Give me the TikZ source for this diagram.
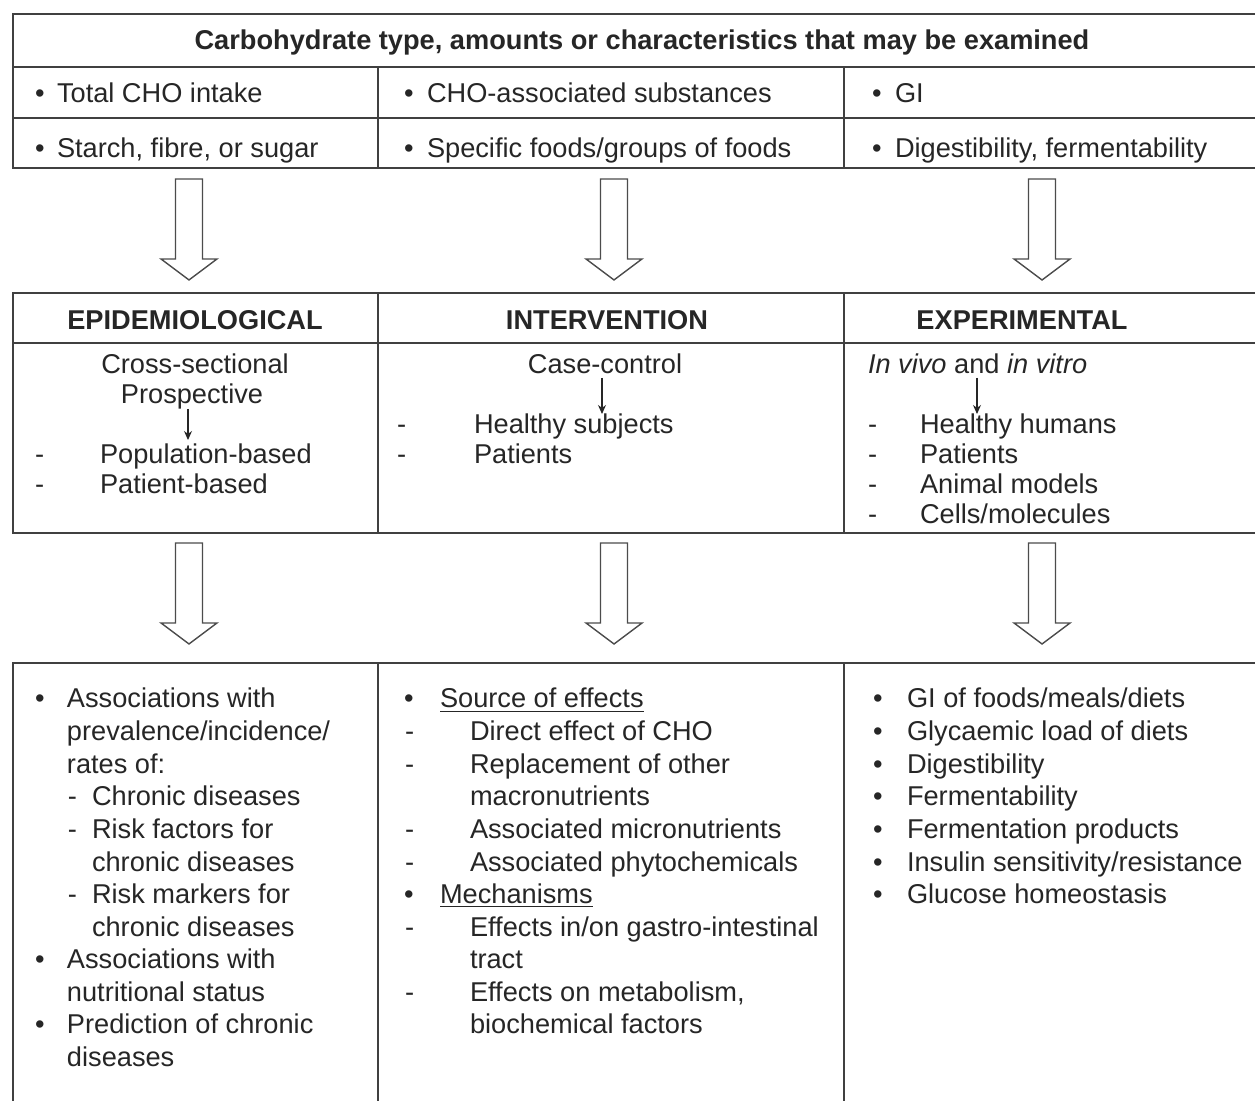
\documentclass[tikz,border=0pt]{standalone}
\usepackage{fontspec}
\setmainfont{Liberation Sans}
\usetikzlibrary{arrows.meta}
\newcommand\Lline[4]{\node[txt] (#1) at (#2,#3) {#4};}
\begin{document}
\begin{tikzpicture}[x=0.5pt,y=-0.5pt,
  frame/.style={line width=0.9pt, draw=black!75},
  txt/.style={anchor=base west, inner sep=0pt, outer sep=0pt, font=\fontsize{13.6}{16.3}\selectfont, text=black!85},
  ctxt/.style={txt, anchor=base},
  hdr/.style={ctxt, font=\fontsize{13.6}{16.3}\selectfont\bfseries},
  blockarrow/.style={draw=black!70, line width=0.7pt, fill=white, line join=miter},
  smallarrow/.style={draw=black!85, line width=0.6pt, -{Stealth[length=4.5pt,width=4pt]}}
]
\useasboundingbox (0,0) rectangle (1255,1101);
\fill[white] (0,0) rectangle (1255,1101);

% ---------- top table ----------
\draw[frame] (1255,14) -- (13,14) -- (13,168) -- (1255,168);
\draw[frame] (13,67) -- (1255,67);
\draw[frame] (13,118) -- (1255,118);
\draw[frame] (378,67) -- (378,168);
\draw[frame] (844,67) -- (844,168);

\node[hdr] (title) at (642,50) {Carbohydrate type, amounts or characteristics that may be examined};
\Lline{tb1}{35}{103}{•}  \Lline{tt1}{57}{103}{Total CHO intake}
\Lline{tb2}{35}{158}{•}  \Lline{tt2}{57}{158}{Starch, fibre, or sugar}
\Lline{tb3}{404}{103}{•} \Lline{tt3}{427}{103}{CHO-associated substances}
\Lline{tb4}{404}{158}{•} \Lline{tt4}{427}{158}{Specific foods/groups of foods}
\Lline{tb5}{872}{103}{•} \Lline{tt5}{895}{103}{GI}
\Lline{tb6}{872}{158}{•} \Lline{tt6}{895}{158}{Digestibility, fermentability}

% ---------- block arrows ----------
\foreach \cx in {189,614,1042}{
  \foreach \ty in {179,543}{
    \draw[blockarrow] (\cx-13.5,\ty) -- (\cx+13.5,\ty) -- (\cx+13.5,\ty+80) -- (\cx+28,\ty+80)
      -- (\cx,\ty+101) -- (\cx-28,\ty+80) -- (\cx-13.5,\ty+80) -- cycle;
  }
}

% ---------- middle box ----------
\draw[frame] (1255,293) -- (13,293) -- (13,533) -- (1255,533);
\draw[frame] (13,343) -- (1255,343);
\draw[frame] (378,293) -- (378,533);
\draw[frame] (844,293) -- (844,533);

\node[hdr] (h1) at (195,330) {EPIDEMIOLOGICAL};
\node[hdr] (h2) at (607,330) {INTERVENTION};
\node[hdr] (h3) at (1022,330) {EXPERIMENTAL};

\node[ctxt] (cross) at (195,374) {Cross-sectional};
\node[ctxt] (prosp) at (192,404) {Prospective};
\coordinate (a1s) at (188,409);
\coordinate (a1e) at (188,440);
\draw[smallarrow] (a1s) -- (a1e);
\Lline{md1}{35}{464}{-} \Lline{mt1}{100}{464}{Population-based}
\Lline{md2}{35}{494}{-} \Lline{mt2}{100}{494}{Patient-based}

\node[ctxt] (casec) at (605,374) {Case-control};
\coordinate (a2s) at (602,378);
\coordinate (a2e) at (602,414);
\draw[smallarrow] (a2s) -- (a2e);
\Lline{md3}{397}{434}{-} \Lline{mt3}{474}{434}{Healthy subjects}
\Lline{md4}{397}{464}{-} \Lline{mt4}{474}{464}{Patients}

\Lline{invivo}{868}{374}{\textit{In vivo} and \textit{in vitro}}
\coordinate (a3s) at (977,378);
\coordinate (a3e) at (977,414);
\draw[smallarrow] (a3s) -- (a3e);
\Lline{md5}{868}{434}{-} \Lline{mt5}{920}{434}{Healthy humans}
\Lline{md6}{868}{464}{-} \Lline{mt6}{920}{464}{Patients}
\Lline{md7}{868}{494}{-} \Lline{mt7}{920}{494}{Animal models}
\Lline{md8}{868}{524}{-} \Lline{mt8}{920}{524}{Cells/molecules}

% ---------- bottom box ----------
\draw[frame] (1255,663) -- (13,663) -- (13,1101);
\draw[frame] (378,663) -- (378,1101);
\draw[frame] (844,663) -- (844,1101);

% column 1
\Lline{l1b1}{35}{708}{•}    \Lline{l1t1}{67}{708}{Associations with}
\Lline{l1t2}{67}{740.6}{prevalence/incidence/}
\Lline{l1t3}{67}{773.2}{rates of:}
\Lline{l1d1}{68}{805.8}{-}  \Lline{l1t4}{92}{805.8}{Chronic diseases}
\Lline{l1d2}{68}{838.4}{-}  \Lline{l1t5}{92}{838.4}{Risk factors for}
\Lline{l1t6}{92}{871}{chronic diseases}
\Lline{l1d3}{68}{903.6}{-}  \Lline{l1t7}{92}{903.6}{Risk markers for}
\Lline{l1t8}{92}{936.2}{chronic diseases}
\Lline{l1b2}{35}{968.8}{•}  \Lline{l1t9}{67}{968.8}{Associations with}
\Lline{l1t10}{67}{1001.4}{nutritional status}
\Lline{l1b3}{35}{1034}{•}   \Lline{l1t11}{67}{1034}{Prediction of chronic}
\Lline{l1t12}{67}{1066.6}{diseases}

% column 2
\Lline{l2b1}{404}{708}{•}    \Lline{l2t1}{440}{708}{\underline{Source of effects}}
\Lline{l2d1}{405}{740.6}{-}  \Lline{l2t2}{470}{740.6}{Direct effect of CHO}
\Lline{l2d2}{405}{773.2}{-}  \Lline{l2t3}{470}{773.2}{Replacement of other}
\Lline{l2t4}{470}{805.8}{macronutrients}
\Lline{l2d3}{405}{838.4}{-}  \Lline{l2t5}{470}{838.4}{Associated micronutrients}
\Lline{l2d4}{405}{871}{-}    \Lline{l2t6}{470}{871}{Associated phytochemicals}
\Lline{l2b2}{404}{903.6}{•}  \Lline{l2t7}{440}{903.6}{\underline{Mechanisms}}
\Lline{l2d5}{405}{936.2}{-}  \Lline{l2t8}{470}{936.2}{Effects in/on gastro-intestinal}
\Lline{l2t9}{470}{968.8}{tract}
\Lline{l2d6}{405}{1001.4}{-} \Lline{l2t10}{470}{1001.4}{Effects on metabolism,}
\Lline{l2t11}{470}{1034}{biochemical factors}

% column 3
\Lline{l3b1}{873}{708}{•}    \Lline{l3t1}{907}{708}{GI of foods/meals/diets}
\Lline{l3b2}{873}{740.6}{•}  \Lline{l3t2}{907}{740.6}{Glycaemic load of diets}
\Lline{l3b3}{873}{773.2}{•}  \Lline{l3t3}{907}{773.2}{Digestibility}
\Lline{l3b4}{873}{805.8}{•}  \Lline{l3t4}{907}{805.8}{Fermentability}
\Lline{l3b5}{873}{838.4}{•}  \Lline{l3t5}{907}{838.4}{Fermentation products}
\Lline{l3b6}{873}{871}{•}    \Lline{l3t6}{907}{871}{Insulin sensitivity/resistance}
\Lline{l3b7}{873}{903.6}{•}  \Lline{l3t7}{907}{903.6}{Glucose homeostasis}
\end{tikzpicture}
\end{document}
